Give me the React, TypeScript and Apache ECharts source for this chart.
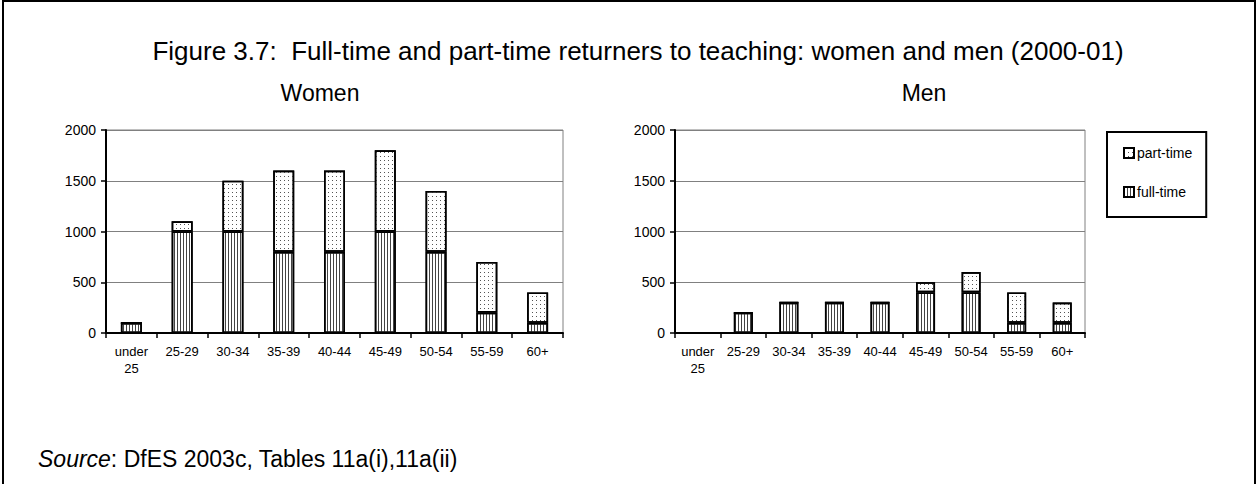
import React, { useEffect, useRef } from "react";
import * as echarts from "echarts";

const categories = ["under 25", "25-29", "30-34", "35-39", "40-44", "45-49", "50-54", "55-59", "60+"];
const womenFullTime = [100, 1000, 1000, 800, 800, 1000, 800, 200, 100];
const womenPartTime = [0, 100, 500, 800, 800, 800, 600, 500, 300];
const menFullTime = [0, 200, 300, 300, 300, 400, 400, 100, 100];
const menPartTime = [0, 0, 0, 0, 0, 100, 200, 300, 200];
const seriesNames = ["full-time", "part-time"];
const legendOrder = ["part-time", "full-time"];
const titleText = "Figure 3.7:  Full-time and part-time returners to teaching: women and men (2000-01)";
const panelTitles = ["Women", "Men"];
const sourceText = "{i|Source}: DfES 2003c, Tables 11a(i),11a(ii)";

const FONT = "'Liberation Sans', Arial, sans-serif";

const stripeDecal = {
  symbol: "rect",
  symbolSize: 1,
  color: "#444",
  backgroundColor: "#fff",
  dashArrayX: [1, 2],
  dashArrayY: [2, 0],
};
const dotDecal = {
  symbol: "rect",
  symbolSize: 1,
  color: "#555",
  backgroundColor: "#fff",
  dashArrayX: [1, 3],
  dashArrayY: [1, 3],
};

export default function App() {
  const ref = useRef<HTMLDivElement>(null);
  useEffect(() => {
    const chart = echarts.init(ref.current!, undefined, { renderer: "svg" });
    const grids = [
      { left: 106, top: 130, width: 457, height: 203 },
      { left: 675, top: 130, width: 410, height: 203 },
    ];
    const xAxes = grids.map((_, i) => ({
      type: "category",
      gridIndex: i,
      data: categories,
      axisLine: { lineStyle: { color: "#000", width: 2 } },
      axisTick: { show: true, length: 5, lineStyle: { color: "#000", width: 1.5 } },
      axisLabel: {
        color: "#000",
        fontFamily: FONT,
        fontSize: 13,
        margin: 10,
        lineHeight: 17,
        interval: 0,
        formatter: (v: string) => v.replace(" ", "\n"),
      },
    }));
    const yAxes = grids.map((_, i) => ({
      type: "value",
      gridIndex: i,
      min: 0,
      max: 2000,
      interval: 500,
      axisLine: { show: true, lineStyle: { color: "#000", width: 2 } },
      axisTick: { show: true, length: 5, lineStyle: { color: "#000", width: 1.5 } },
      axisLabel: {
        color: "#000",
        fontFamily: FONT,
        fontSize: 14,
        margin: 10,
        formatter: (v: number) => String(v),
      },
      splitLine: { show: true, lineStyle: { color: "#808080", width: 1 } },
    }));
    const barStyle = (decal: any) => ({
      color: "#fff",
      borderColor: "#000",
      borderWidth: 1.6,
      decal,
    });
    const mk = (name: string, data: number[], idx: number, decal: any, bw: number) => ({
      type: "bar",
      name,
      stack: "s" + idx,
      xAxisIndex: idx,
      yAxisIndex: idx,
      data,
      barWidth: bw,
      itemStyle: barStyle(decal),
      emphasis: { disabled: true },
    });
    chart.setOption({
      animation: false,
      backgroundColor: "#fff",
      grid: grids.map((g) => ({ ...g, show: true, borderColor: "#808080", borderWidth: 1 })),
      xAxis: xAxes,
      yAxis: yAxes,
      legend: {
        data: legendOrder,
        orient: "vertical",
        left: 1107,
        top: 132,
        padding: [14, 14, 18, 16],
        itemGap: 25,
        itemWidth: 10,
        itemHeight: 10,
        icon: "rect",
        itemStyle: { borderColor: "#000", borderWidth: 2, color: "#fff" },
        borderColor: "#000",
        borderWidth: 2,
        borderRadius: 0,
        selectedMode: false,
        textStyle: { color: "#000", fontFamily: FONT, fontSize: 14, padding: [0, 0, 0, -2] },
      },
      series: [
        mk(seriesNames[0], womenFullTime, 0, stripeDecal, 21),
        mk(seriesNames[1], womenPartTime, 0, dotDecal, 21),
        mk(seriesNames[0], menFullTime, 1, stripeDecal, 19),
        mk(seriesNames[1], menPartTime, 1, dotDecal, 19),
      ],
      graphic: [
        {
          type: "rect",
          shape: { x: 3, y: 1, width: 1252, height: 540 },
          style: { fill: "none", stroke: "#000", lineWidth: 2 },
          silent: true,
        },
        {
          type: "text",
          x: 638,
          y: 51,
          style: { text: titleText, font: `26px ${FONT}`, fill: "#000", align: "center", verticalAlign: "middle" },
        },
        {
          type: "text",
          x: 320,
          y: 93,
          style: { text: panelTitles[0], font: `23px ${FONT}`, fill: "#000", align: "center", verticalAlign: "middle" },
        },
        {
          type: "text",
          x: 924,
          y: 93,
          style: { text: panelTitles[1], font: `23px ${FONT}`, fill: "#000", align: "center", verticalAlign: "middle" },
        },
        {
          type: "text",
          x: 38,
          y: 459,
          style: {
            text: sourceText,
            fontFamily: FONT,
            fontSize: 23,
            fill: "#000",
            align: "left",
            verticalAlign: "middle",
            rich: { i: { fontStyle: "italic", fontFamily: FONT, fontSize: 23, fill: "#000" } },
          },
        },
      ],
    });
    return () => chart.dispose();
  }, []);
  return <div ref={ref} style={{ position: "fixed", left: 0, top: 0, width: 1257, height: 484 }} />;
}
